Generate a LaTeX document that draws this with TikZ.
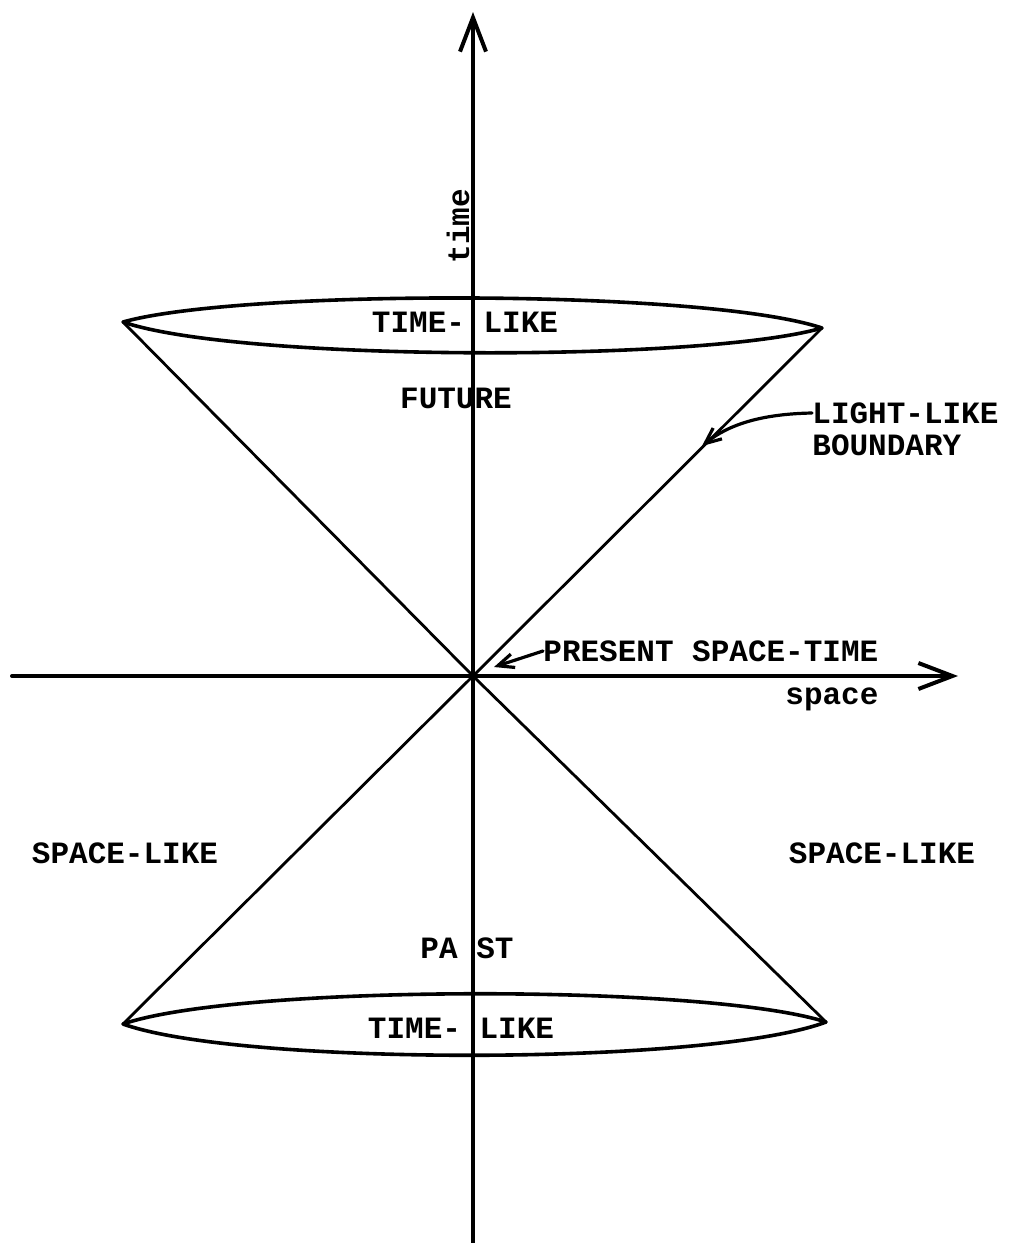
\documentclass[tikz,border=0pt]{standalone}
\usepackage{fontspec}
\setmonofont{Liberation Mono}
\usetikzlibrary{arrows.meta}
\begin{document}
\begin{tikzpicture}[x=0.5pt,y=-0.5pt,
  lbl/.style={font=\ttfamily\bfseries\fontsize{15.5}{18}\selectfont, inner sep=0pt},
  axis/.style={line width=2pt, line cap=round},
  cone/.style={line width=1.4pt, line join=round},
  lens/.style={line width=1.8pt, line join=round},
  bigtip/.style={-{Straight Barb[length=17pt,width=13pt]}},
  smalltip/.style={-{Straight Barb[length=8pt,width=7pt]}},
  pointer/.style={line width=1.6pt, line cap=round, smalltip}]
\useasboundingbox (0,0) rectangle (1036,1243);
% key points
\coordinate (O) at (473,676);
\coordinate (UL) at (123,322);
\coordinate (UR) at (822,328);
\coordinate (LL) at (123,1024);
\coordinate (LR) at (826,1022);
\coordinate (tB) at (473,1243);
\coordinate (tT) at (473,12);
\coordinate (sL) at (12,676);
\coordinate (sR) at (958,676);
\coordinate (lt) at (702,446);
\coordinate (pt) at (494,667);
% axes
\draw[axis,bigtip] (tB) -- (tT);
\draw[axis,bigtip] (sL) -- (sR);
% cones
\draw[cone] (UL) -- (O) -- (LR);
\draw[cone] (UR) -- (O) -- (LL);
% lenses
\draw[lens] (UL) .. controls (240,289) and (705,289) .. (UR)
  .. controls (705,362) and (240,362) .. (UL) -- cycle;
\draw[lens] (LL) .. controls (240,984) and (709,984) .. (LR)
  .. controls (709,1066) and (240,1066) .. (LL) -- cycle;
% labels
\node[lbl,rotate=90] (time) at (458,226) {time};
\node[lbl] (tlu) at (465,322) {TIME- LIKE};
\node[lbl] (fut) at (456,398) {FUTURE};
\node[lbl,anchor=west] (ll) at (812,413) {LIGHT-LIKE};
\node[lbl,anchor=west] (bd) at (812,445) {BOUNDARY};
\node[lbl,anchor=west] (pst) at (543,651) {PRESENT SPACE-TIME};
\node[lbl,anchor=west] (sp) at (785,699) {space};
\node[lbl] (sll) at (125,853) {SPACE-LIKE};
\node[lbl] (slr) at (882,853) {SPACE-LIKE};
\node[lbl] (past) at (467,948) {PA ST};
\node[lbl] (tll) at (461,1028) {TIME- LIKE};
% pointers
\draw[pointer] (ll.west) .. controls (760,414) and (728,425) .. (lt);
\draw[pointer] (pst.west) -- (pt);
\end{tikzpicture}
\end{document}
